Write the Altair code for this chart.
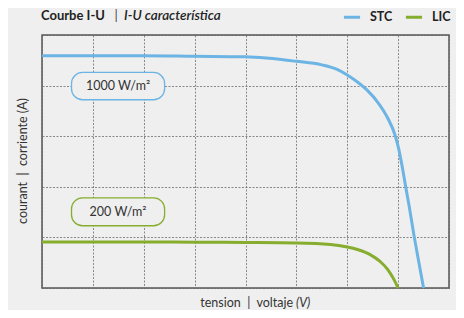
import altair as alt
import pandas as pd

# STC curve (1000 W/m²)
stc_v = [0, 1, 2, 3, 4, 5, 5.5, 5.8, 6.0, 6.2, 6.4, 6.6, 6.8, 6.94, 7.0, 7.08, 7.14, 7.22, 7.31, 7.4, 7.5]
stc_i = [4.59, 4.59, 4.59, 4.58, 4.57, 4.48, 4.41, 4.32, 4.21, 4.07, 3.9, 3.67, 3.35, 3.02, 2.8, 2.4, 2.05, 1.6, 1.05, 0.55, 0.0]
# LIC curve (200 W/m²)
lic_v = [0, 1, 2, 3, 4, 5, 5.67, 6.0, 6.2, 6.45, 6.65, 6.8, 6.9, 7.0]
lic_i = [0.91, 0.91, 0.91, 0.905, 0.9, 0.89, 0.86, 0.81, 0.76, 0.66, 0.52, 0.36, 0.2, 0.0]

series = ["STC", "LIC"]
colors = ["#6cb4e4", "#86ad2e"]
box_labels = ["1000 W/m²", "200 W/m²"]
box_x0 = [0.58, 0.58]
box_x1 = [2.41, 2.41]
box_ytop = [4.26, 1.78]
box_ybot = [3.72, 1.23]

x_grid = list(range(0, 9))
y_grid = list(range(0, 6))

FONT = "Lato"
BG = "#efefef"
SP = "\u00a0\u00a0"

df = pd.DataFrame(
    {"v": stc_v + lic_v,
     "i": stc_i + lic_i,
     "s": ["STC"] * len(stc_v) + ["LIC"] * len(lic_v)}
)
boxes = pd.DataFrame({
    "label": box_labels, "s": series,
    "x0": box_x0, "x1": box_x1, "yt": box_ytop, "yb": box_ybot,
})
boxes["xc"] = (boxes["x0"] + boxes["x1"]) / 2
boxes["yc"] = (boxes["yt"] + boxes["yb"]) / 2

xs = alt.Scale(domain=[0, 8], nice=False)
ys = alt.Scale(domain=[0, 5], nice=False)
cs = alt.Scale(domain=series, range=colors)

xax = alt.Axis(values=x_grid, labels=False, ticks=False, domain=False, title=None,
               grid=True, gridColor="#666", gridDash=[2, 1.5], gridOpacity=0.75)
yax = alt.Axis(values=y_grid, labels=False, ticks=False, domain=False, title=None,
               grid=True, gridColor="#666", gridDash=[2, 1.5], gridOpacity=0.75)

lines = alt.Chart(df).mark_line(strokeWidth=3, interpolate="monotone").encode(
    x=alt.X("v:Q", scale=xs, axis=xax),
    y=alt.Y("i:Q", scale=ys, axis=yax),
    color=alt.Color("s:N", scale=cs, sort=series, legend=alt.Legend(
        title=None, orient="none", legendX=300, legendY=-28, direction="horizontal",
        symbolType="stroke", symbolSize=260, symbolStrokeWidth=3,
        labelFont=FONT, labelFontWeight="bold", labelFontSize=12.5, labelColor="#222",
        columnPadding=6, labelOffset=8)),
    detail="s:N",
)

rects = alt.Chart(boxes).mark_rect(cornerRadius=11, fill=BG, strokeWidth=1.3).encode(
    x=alt.X("x0:Q", scale=xs), x2="x1:Q",
    y=alt.Y("yt:Q", scale=ys), y2="yb:Q",
    stroke=alt.Stroke("s:N", scale=cs, legend=None),
)
rtext = alt.Chart(boxes).mark_text(font=FONT, fontSize=12.5, color="#333").encode(
    x=alt.X("xc:Q", scale=xs), y=alt.Y("yc:Q", scale=ys), text="label:N",
)

def txt(t, x, y, align="left", weight="normal", style="normal", size=12, angle=0, color="#222"):
    return alt.Chart(pd.DataFrame({"t": [t]})).mark_text(
        font=FONT, fontSize=size, fontWeight=weight, fontStyle=style, align=align,
        baseline="middle", angle=angle, color=color,
    ).encode(x=alt.value(x), y=alt.value(y), text="t:N")

title = (
    txt("Courbe I-U", -1, -19, weight="bold", size=13)
    + txt("|", 74, -19, align="center", size=13, color="#444")
    + txt("I-U característica", 82, -19, style="italic", weight=600, size=13.5)
    + txt("tension" + SP + "|" + SP + "voltaje", 251, 268, align="right", color="#333", size=12.5)
    + txt("(V)", 254, 268, style="italic", color="#333", size=12.5)
    + txt("courant" + SP + "|" + SP + "corriente (A)", -19, 126, align="center", angle=270, color="#333", size=12.5)
)

chart = alt.layer(lines, rects, rtext, title).properties(
    width=407, height=253,
    autosize=alt.AutoSizeParams(type="none"),
    padding={"left": 34, "top": 27, "right": 7, "bottom": 22},
    background=BG,
).configure_view(stroke="#555", strokeWidth=1.5, fill=BG)

chart.save("out.html", embed_options={"renderer": "svg", "actions": False})
